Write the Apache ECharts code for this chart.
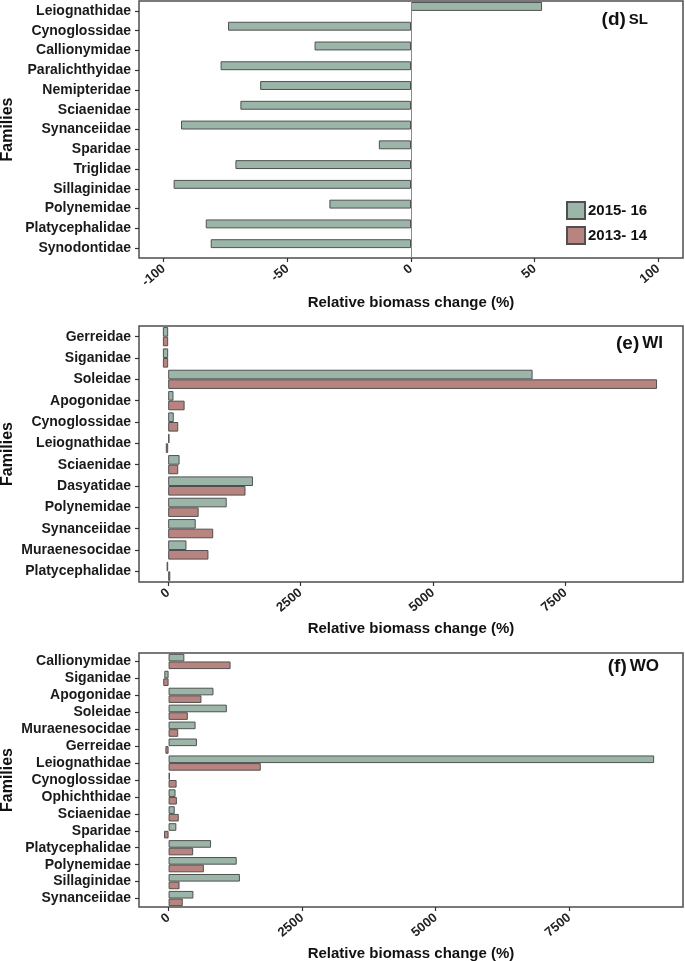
<!DOCTYPE html>
<html><head><meta charset="utf-8">
<script src="https://cdn.jsdelivr.net/npm/echarts@6/dist/echarts.min.js"></script>
<style>html,body{margin:0;padding:0;background:#fff}#c{width:685px;height:961px}</style>
</head><body><div id="c"></div>
<script>
// ---- data ----
const catsSL = ['Leiognathidae','Cynoglossidae','Callionymidae','Paralichthyidae','Nemipteridae','Sciaenidae','Synanceiidae','Sparidae','Triglidae','Sillaginidae','Polynemidae','Platycephalidae','Synodontidae'];
const sl1516 = [53,-74,-39,-77,-61,-69,-93,-13,-71,-96,-33,-83,-81];
const sl1314 = [null,null,null,null,null,null,null,null,null,null,null,null,null];

const catsWI = ['Gerreidae','Siganidae','Soleidae','Apogonidae','Cynoglossidae','Leiognathidae','Sciaenidae','Dasyatidae','Polynemidae','Synanceiidae','Muraenesocidae','Platycephalidae'];
const wi1516 = [-100,-100,6880,100,105,25,215,1600,1105,520,345,-30];
const wi1314 = [-100,-100,9230,310,190,-45,190,1460,575,850,760,40];

const catsWO = ['Callionymidae','Siganidae','Apogonidae','Soleidae','Muraenesocidae','Gerreidae','Leiognathidae','Cynoglossidae','Ophichthidae','Sciaenidae','Sparidae','Platycephalidae','Polynemidae','Sillaginidae','Synanceiidae'];
const wo1516 = [295,-80,840,1090,505,530,9090,25,130,115,145,795,1275,1335,465];
const wo1314 = [1160,-100,615,360,180,-60,1725,150,155,190,-85,460,660,205,265];

const ticksSL = [-100,-50,0,50,100];
const ticksW = [0,2500,5000,7500];
const seriesNames = ['2015- 16','2013- 14'];
const xTitle = 'Relative biomass change (%)';
const yTitle = 'Families';

// ---- styles ----
const FONT = "'Liberation Sans', Arial, sans-serif";
const GREEN = '#9bb5a9', RED = '#b8847f', EDGE = '#505050';

const chart = echarts.init(document.getElementById('c'), null, {renderer:'canvas'});

const grids = [
  {left:139, width:544, top:1, height:257},
  {left:139, width:544, top:326, height:256},
  {left:139, width:544, top:653, height:254}
].map(g => Object.assign(g, {show:true, borderColor:'#4d4d4d', borderWidth:1.5, backgroundColor:'#fff',
  containLabel:false, outerBoundsMode:'none'}));

function xAx(i, min, max, ticks, gap){
  return {type:'value', gridIndex:i, min:min, max:max,
    splitLine:{show:false}, axisLine:{show:false, onZero:false},
    axisTick:{show:true, length:4, lineStyle:{color:'#333', width:1.2}, customValues:ticks},
    axisLabel:{rotate:40, margin:9, fontFamily:FONT, fontWeight:'bold', fontSize:13, color:'#222',
      customValues:ticks, formatter:v => String(v)},
    name:xTitle, nameLocation:'middle', nameGap:gap,
    nameTextStyle:{fontFamily:FONT, fontWeight:'bold', fontSize:15, color:'#111'}};
}
function yAx(i, cats){
  return {type:'category', gridIndex:i, data:cats, inverse:true,
    axisLine:{show:false, onZero:false},
    axisTick:{show:true, alignWithLabel:true, length:4, lineStyle:{color:'#333', width:1.2}},
    axisLabel:{margin:8, fontFamily:FONT, fontWeight:'bold', fontSize:14, color:'#1a1a1a', interval:0},
    name:yTitle, nameLocation:'middle', nameRotate:90, nameGap:123, nameMoveOverlap:false,
    nameTextStyle:{fontFamily:FONT, fontWeight:'bold', fontSize:16, color:'#111'}};
}
function bar(name, i, data, color){
  return {type:'bar', name:name, xAxisIndex:i, yAxisIndex:i, data:data,
    barCategoryGap:'10%', barGap:'0%',
    itemStyle:{color:color, borderColor:EDGE, borderWidth:1},
    emphasis:{disabled:true}};
}

const s0 = bar(seriesNames[0], 0, sl1516, GREEN);
s0.markLine = {silent:true, symbol:'none', label:{show:false},
  lineStyle:{color:'#8a8a8a', width:1, type:'solid'}, data:[{xAxis:0}]};

function titleRich(a, b, right, top, bSize){
  return {text:'{a|' + a + '}{b|' + b + '}', right:right, top:top,
    textStyle:{rich:{
      a:{fontFamily:FONT, fontWeight:'bold', fontSize:19, color:'#111'},
      b:{fontFamily:FONT, fontWeight:'bold', fontSize:bSize, color:'#111', padding:[0,0,0,3]}}}};
}

chart.setOption({
  animation:false,
  backgroundColor:'#fff',
  title:[
    titleRich('(d)', 'SL', 32, 5, 15),
    titleRich('(e)', 'WI', 17, 329, 17),
    titleRich('(f)', 'WO', 21, 652, 17)
  ],
  legend:{data:seriesNames, left:561, top:196, orient:'vertical', itemWidth:18, itemHeight:17, itemGap:6,
    icon:'rect', selectedMode:false,
    textStyle:{fontFamily:FONT, fontWeight:'bold', fontSize:15, color:'#111', padding:[0,0,0,-2]}},
  grid:grids,
  xAxis:[xAx(0,-110,110,ticksSL,37), xAx(1,-551,9720,ticksW,39), xAx(2,-554,9630,ticksW,39)],
  yAxis:[yAx(0,catsSL), yAx(1,catsWI), yAx(2,catsWO)],
  series:[
    s0, bar(seriesNames[1], 0, sl1314, RED),
    bar(seriesNames[0], 1, wi1516, GREEN), bar(seriesNames[1], 1, wi1314, RED),
    bar(seriesNames[0], 2, wo1516, GREEN), bar(seriesNames[1], 2, wo1314, RED)
  ]
});
</script></body></html>
